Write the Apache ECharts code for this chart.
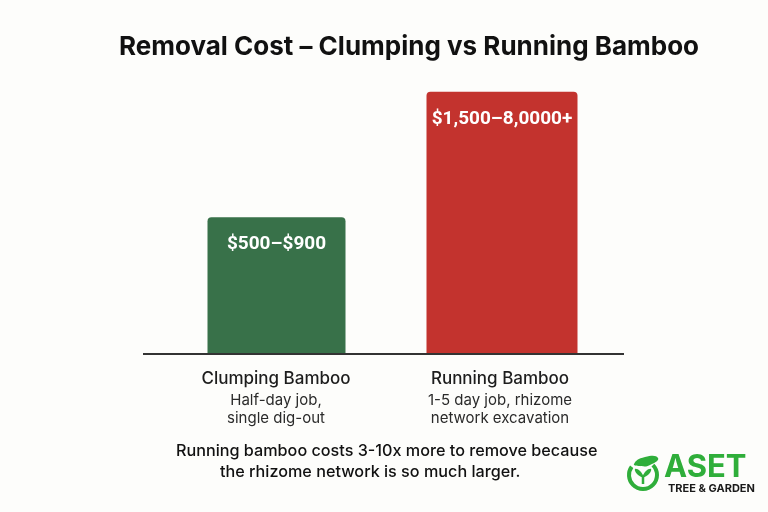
<!DOCTYPE html>
<html>
<head>
<meta charset="utf-8">
<script src="https://cdn.jsdelivr.net/npm/echarts@6/dist/echarts.min.js"></script>
<style>
html,body{margin:0;padding:0;background:#fdfdfb;}
#chart{width:768px;height:512px;}
</style>
</head>
<body>
<div id="chart"></div>
<script>
var categories = ['Clumping Bamboo', 'Running Bamboo'];
var subtitles = ['Half-day job,\nsingle dig-out', '1-5 day job, rhizome\nnetwork excavation'];
var clumpingHeight = [900, '-'];
var runningHeight = ['-', 1725];
var barLabels = ['$500–$900', '$1,500–8,0000+'];
var barColors = ['#387149', '#c3332e'];
var titleText = 'Removal Cost – Clumping vs Running Bamboo';
var footnote1 = 'Running bamboo costs 3-10x more to remove because';
var footnote2 = 'the rhizome network is so much larger.';

var chart = echarts.init(document.getElementById('chart'));
var font = 'Inter, Roboto, "Noto Sans", sans-serif';
var labelFont = 'Roboto, "Noto Sans", sans-serif';

function barLabel() {
  return {
    show: true,
    position: 'insideTop',
    distance: 18,
    formatter: function (p) { return barLabels[p.dataIndex]; },
    fontFamily: labelFont, fontSize: 19, fontWeight: 'bold', color: '#ffffff'
  };
}

chart.setOption({
  backgroundColor: '#fdfdfb',
  animation: false,
  title: {
    text: titleText,
    left: 404, top: 29, textAlign: 'center',
    textStyle: { fontFamily: font, fontSize: 26, fontWeight: 'bold', color: '#111' }
  },
  grid: { left: 173.5, right: 156.5, top: 50, bottom: 158 },
  xAxis: {
    type: 'category',
    data: categories,
    axisLine: { show: false },
    axisTick: { show: false },
    axisLabel: {
      margin: 13,
      interval: 0,
      formatter: function (v, i) {
        var s = subtitles[i].split('\n');
        return '{n' + i + '|' + v + '}\n{s' + i + '|' + s[0] + '}\n{s' + i + '|' + s[1] + '}';
      },
      rich: {
        n0: { fontFamily: font, fontSize: 17, fontWeight: 500, color: '#1d1d1d', lineHeight: 24, padding: [0, 14, 0, 0] },
        s0: { fontFamily: font, fontSize: 15, color: '#2a2a2a', lineHeight: 18, padding: [0, 14, 0, 0] },
        n1: { fontFamily: font, fontSize: 17, fontWeight: 500, color: '#1d1d1d', lineHeight: 24, padding: [0, 4, 0, 0] },
        s1: { fontFamily: font, fontSize: 15, color: '#2a2a2a', lineHeight: 18, padding: [0, 4, 0, 0] }
      }
    }
  },
  yAxis: { type: 'value', min: 0, max: 2000, show: false, splitLine: { show: false } },
  series: [{
    type: 'bar',
    barWidth: 138,
    barGap: '-100%',
    data: clumpingHeight,
    itemStyle: { color: barColors[0], borderRadius: [4, 4, 0, 0] },
    label: barLabel()
  }, {
    type: 'bar',
    barWidth: 151,
    barGap: '-100%',
    data: runningHeight,
    itemStyle: { color: barColors[1], borderRadius: [4, 4, 0, 0] },
    label: barLabel()
  }],
  graphic: [
    { type: 'line', shape: { x1: 143, y1: 354, x2: 624, y2: 354 }, style: { stroke: '#333', lineWidth: 2 }, z: 10 },
    { type: 'text', left: 176, top: 443, style: { text: footnote1, font: '500 16.2px ' + font, fill: '#111' } },
    { type: 'text', left: 220, top: 464, style: { text: footnote2, font: '500 16.2px ' + font, fill: '#111' } },
    // logo
    { type: 'arc', shape: { cx: 643, cy: 475, r: 14, startAngle: -Math.PI * 0.25, endAngle: Math.PI * 1.2 }, style: { stroke: '#2fae3a', lineWidth: 4, fill: null } },
    { type: 'polygon', shape: { smooth: 0.6, points: [[634, 464], [645, 457], [658, 458], [650, 465], [640, 466]] }, style: { fill: '#2fae3a' } },
    { type: 'line', shape: { x1: 643, y1: 476, x2: 643, y2: 484 }, style: { stroke: '#2fae3a', lineWidth: 2.5 } },
    { type: 'polygon', shape: { smooth: 0.5, points: [[643, 477], [637, 474], [635, 469], [640, 471]] }, style: { fill: '#2fae3a' } },
    { type: 'polygon', shape: { smooth: 0.5, points: [[643, 477], [649, 474], [651, 469], [646, 471]] }, style: { fill: '#2fae3a' } },
    { type: 'text', left: 664, top: 452, style: { text: 'ASET', font: 'bold 31px ' + font, fill: '#2fae3a' } },
    { type: 'text', left: 668, top: 483, style: { text: 'TREE & GARDEN', font: 'bold 11px ' + font, fill: '#1a1a1a' } }
  ]
});
</script>
</body>
</html>
